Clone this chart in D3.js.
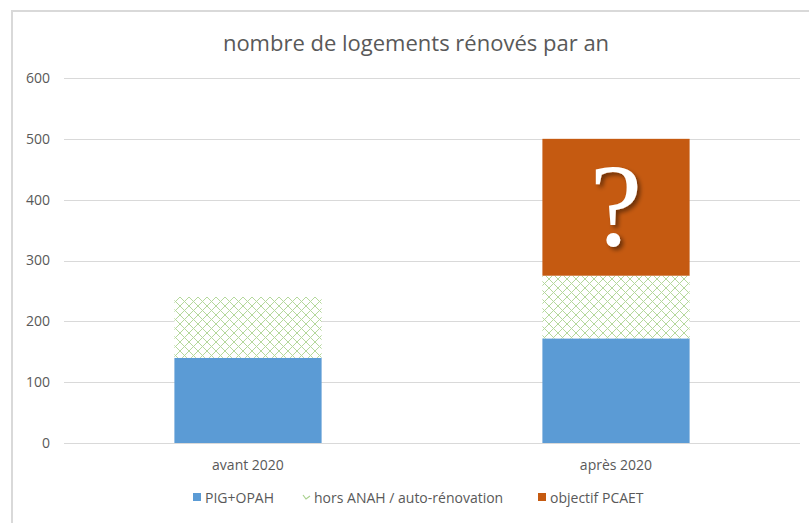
<!DOCTYPE html>
<html>
<head>
<meta charset="utf-8">
<script src="https://cdn.jsdelivr.net/npm/d3@7"></script>
<style>
  html, body { margin: 0; padding: 0; background: #fff; }
  svg { display: block; font-family: "Open Sans", "Noto Sans", sans-serif; }
</style>
</head>
<body>
<svg id="chart" width="809" height="523"></svg>
<script>
// Chart data
const categories = ["avant 2020", "après 2020"];
const seriesNames = ["PIG+OPAH", "hors ANAH / auto-rénovation", "objectif PCAET"];
const pigOpah = [140, 172];
const horsAnah = [100, 103];
const objectifPcaet = [0, 225];
const yTicks = [0, 100, 200, 300, 400, 500, 600];

const colors = ["#5b9bd5", "url(#lattice)", "#c55a11"];

const svg = d3.select("#chart");
const W = 809, H = 523;

const defs = svg.append("defs");
// light green lattice fill
const pat = defs.append("pattern")
  .attr("id", "lattice").attr("patternUnits", "userSpaceOnUse")
  .attr("width", 9).attr("height", 9);
pat.append("rect").attr("width", 9).attr("height", 9).attr("fill", "#fff");
pat.append("path").attr("d", "M0,0 L9,9 M9,0 L0,9 M-4.5,4.5 L4.5,-4.5 M4.5,13.5 L13.5,4.5 M-4.5,4.5 L4.5,13.5 M4.5,-4.5 L13.5,4.5")
  .attr("stroke", "#b4d89c").attr("stroke-width", 1).attr("fill", "none");
const shadow = defs.append("filter").attr("id", "qshadow")
  .attr("x", "-50%").attr("y", "-50%").attr("width", "200%").attr("height", "200%");
shadow.append("feDropShadow").attr("dx", 3).attr("dy", 3).attr("stdDeviation", 2)
  .attr("flood-color", "#000").attr("flood-opacity", 0.45);

// outer frame
svg.append("path")
  .attr("d", `M12,${H} L12,11 L${W},11`)
  .attr("fill", "none").attr("stroke", "#d9d9d9").attr("stroke-width", 2);

const margin = { left: 64, right: 9 };
const x = d3.scaleBand().domain(categories).range([margin.left, W - margin.right]).paddingInner(0.6).paddingOuter(0.3);
const y = d3.scaleLinear().domain([0, 600]).range([443, 78]);

// gridlines
svg.append("g").selectAll("line").data(yTicks).join("line")
  .attr("x1", margin.left).attr("x2", W - margin.right)
  .attr("y1", d => Math.round(y(d)) + 0.5).attr("y2", d => Math.round(y(d)) + 0.5)
  .attr("stroke", "#d9d9d9").attr("stroke-width", 1);

// y axis
const yAxis = svg.append("g").attr("transform", `translate(${margin.left},0)`)
  .call(d3.axisLeft(y).tickValues(yTicks).tickSize(0).tickPadding(14));
yAxis.select(".domain").remove();
yAxis.selectAll("text").attr("fill", "#595959").style("font-size", "14px")
  .style("font-family", "'Open Sans', sans-serif");

// stacked bars
const table = categories.map((c, i) => ({ cat: c, a: pigOpah[i], b: horsAnah[i], c: objectifPcaet[i] }));
const stack = d3.stack().keys(["a", "b", "c"])(table);
svg.append("g").selectAll("g").data(stack).join("g")
  .attr("fill", (d, i) => colors[i])
  .selectAll("rect").data(d => d).join("rect")
  .attr("x", d => x(d.data.cat))
  .attr("width", x.bandwidth())
  .attr("y", d => y(d[1]))
  .attr("height", d => y(d[0]) - y(d[1]));

// baseline
svg.append("line").attr("x1", margin.left).attr("x2", W - margin.right)
  .attr("y1", Math.round(y(0)) + 0.5).attr("y2", Math.round(y(0)) + 0.5)
  .attr("stroke", "#d9d9d9");

// question mark on the PCAET target segment
const targetSeg = stack[2][1];
svg.append("text")
  .attr("x", x(targetSeg.data.cat) + x.bandwidth() / 2)
  .attr("y", (y(targetSeg[0]) + y(targetSeg[1])) / 2 + 38)
  .attr("text-anchor", "middle")
  .attr("fill", "#fff")
  .attr("filter", "url(#qshadow)")
  .style("font-family", "'Liberation Serif', 'DejaVu Serif', serif")
  .style("font-size", "118px")
  .text("?");

// x axis labels
svg.append("g").selectAll("text").data(categories).join("text")
  .attr("x", d => x(d) + x.bandwidth() / 2).attr("y", 470)
  .attr("text-anchor", "middle").attr("fill", "#595959").style("font-size", "14px")
  .text(d => d);

// title
svg.append("text").attr("x", 416).attr("y", 51).attr("text-anchor", "middle")
  .attr("fill", "#595959").style("font-size", "22px")
  .text("nombre de logements rénovés par an");

// legend
const legendX = [193, 302, 538];
const lg = svg.append("g").selectAll("g").data(seriesNames).join("g")
  .attr("transform", (d, i) => `translate(${legendX[i]},500)`);
lg.each(function (d, i) {
  const g = d3.select(this);
  if (i === 1) {
    g.append("path").attr("d", "M1,-5 L4,-1 L8,-4").attr("stroke", "#a9d18e")
      .attr("stroke-width", 1.2).attr("fill", "none");
  } else {
    g.append("rect").attr("x", 0).attr("y", -7).attr("width", 8).attr("height", 8).attr("fill", colors[i]);
  }
  g.append("text").attr("x", 12).attr("y", 0).attr("dy", "0.2em")
    .attr("fill", "#595959").style("font-size", "14px").text(d);
});
</script>
</body>
</html>
